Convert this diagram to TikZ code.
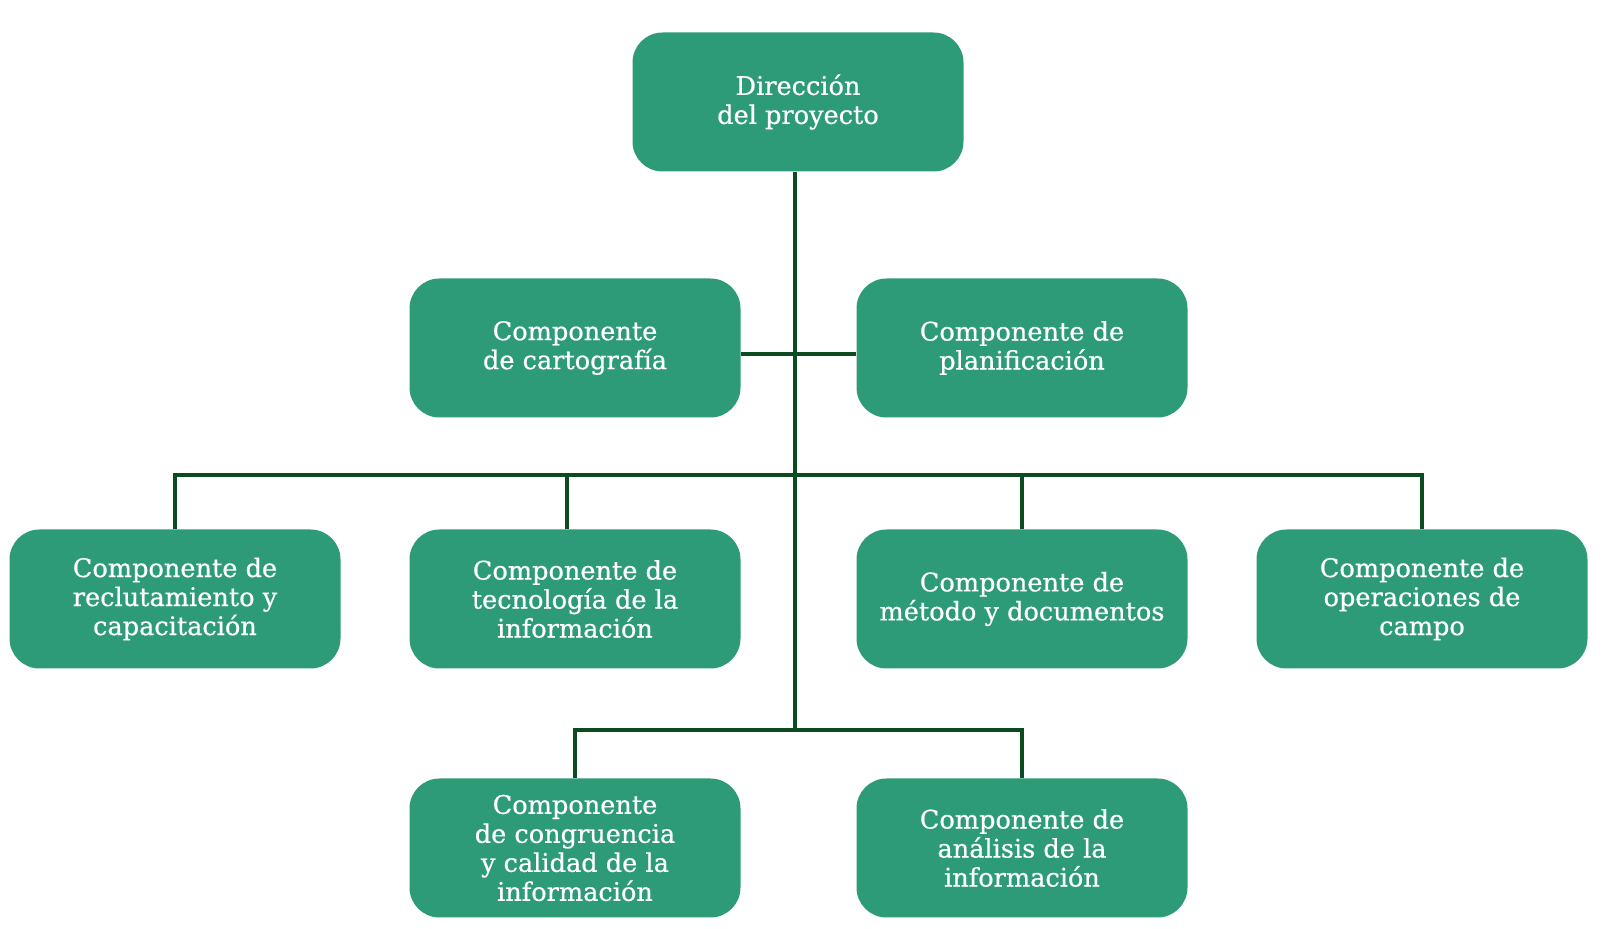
\documentclass[tikz,border=0pt]{standalone}
\usepackage{fontspec}
\setmainfont{DejaVu Serif}
\newfontfamily\boxfont{DejaVu Serif}[FakeBold=0.6]
\usepackage{tikz}
\usetikzlibrary{positioning}
\definecolor{orgfill}{HTML}{2D9B78}
\definecolor{orgline}{HTML}{0C4A1F}
\tikzset{
  comp/.style={fill=orgfill,draw=none,rounded corners=15pt,minimum width=165.5pt,
    minimum height=69.5pt,align=center,text=white,inner sep=2pt,
    font=\boxfont\fontsize{12.8}{14.5}\selectfont},
  link/.style={draw=orgline,line width=2.4pt}
}
\begin{document}
\begin{tikzpicture}[x=0.5pt,y=-0.5pt]
    \useasboundingbox (0,0) rectangle (1607,929);
    \node[comp] (dir) at (798,102) {Dirección\\del proyecto};
    \node[comp] (carto) at (575,348) {Componente\\de cartografía};
    \node[comp] (plan) at (1022,348) {Componente de\\planificación};
    \node[comp] (reclu) at (175,599) {Componente de\\reclutamiento y\\capacitación};
    \node[comp] (tecno) at (575,599) {Componente de\\tecnología de la\\información};
    \node[comp] (metodo) at (1022,599) {Componente de\\método y documentos};
    \node[comp] (opera) at (1422,599) {Componente de\\operaciones de\\campo};
    \node[comp] (congru) at (575,848) {Componente\\de congruencia\\y calidad de la\\información};
    \node[comp] (anali) at (1022,848) {Componente de\\análisis de la\\información};
    \coordinate (mid) at (795,354);
    \coordinate (bus) at (795,475);
    \coordinate (low) at (795,730);
    \coordinate (tdrop) at (567,475);
    \draw[link] (dir.south -| bus) -- (low);
    \draw[link] (carto.east |- mid) -- (plan.west |- mid);
    \draw[link] (reclu.north) -- (reclu.north |- bus) -- (opera.north |- bus) -- (opera.north);
    \draw[link] (tdrop) -- (tdrop |- tecno.north);
    \draw[link] (metodo.north) -- (metodo.north |- bus);
    \draw[link] (congru.north) -- (congru.north |- low) -- (anali.north |- low) -- (anali.north);
  \end{tikzpicture}
\end{document}
